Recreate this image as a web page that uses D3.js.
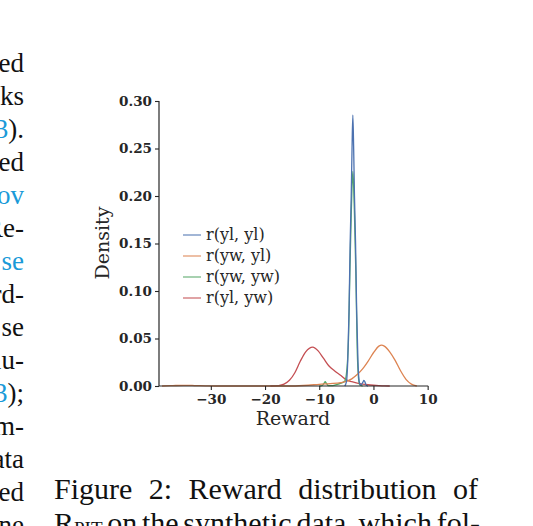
<!DOCTYPE html>
<html>
<head>
<meta charset="utf-8">
<script src="https://cdn.jsdelivr.net/npm/d3@7"></script>
<style>
  body { margin: 0; background: #fff; }
  svg { display: block; }
</style>
</head>
<body>
<svg id="chart" width="533" height="526"></svg>
<script>
// reward grid and density, one pair per series
var rewardYlYl = [-5.3, -5.0, -4.75, -4.5, -4.3, -4.1, -3.95, -3.8, -3.65, -3.5, -3.3, -3.1, -2.85, -2.6, -2.3, -1.95, -1.75, -1.55, -1.3, -1.0];
var densityYlYl = [0, 0.004, 0.025, 0.08, 0.15, 0.2, 0.25, 0.285, 0.25, 0.2, 0.15, 0.08, 0.025, 0.004, 0.001, 0.004, 0.006, 0.004, 0.0005, 0];

var rewardYwYl = [-39, -37, -35, -33, -31, -29, -15, -12, -10, -8, -6, -5, -4, -3, -2, -1, 0, 1, 1.5, 2, 3, 4, 5, 6, 7, 8];
var densityYwYl = [0, 0.0004, 0.0007, 0.0005, 0.0002, 0, 0, 0.0008, 0.0018, 0.0025, 0.0035, 0.0048, 0.0075, 0.012, 0.018, 0.026, 0.035, 0.042, 0.043, 0.042, 0.036, 0.027, 0.016, 0.007, 0.002, 0];

var rewardYwYw = [-10, -9.5, -9.1, -8.9, -8.7, -8.3, -7.5, -6.8, -6.0, -5.3, -5.0, -4.6, -4.35, -4.1, -3.95, -3.8, -3.65, -3.5, -3.25, -3.0, -2.75, -2.5, -2.0];
var densityYwYw = [0, 0.0003, 0.003, 0.0045, 0.003, 0.0003, 0.0005, 0.0015, 0.003, 0.005, 0.012, 0.05, 0.12, 0.18, 0.21, 0.226, 0.21, 0.18, 0.12, 0.04, 0.008, 0.001, 0];

var rewardYlYw = [-19, -17.5, -16.5, -15.5, -14.5, -13.5, -12.5, -11.2, -10.2, -9.2, -8.2, -7.2, -6, -5, -4, -3, -2, -1, 0, 1, 2, 3];
var densityYlYw = [0, 0.0005, 0.002, 0.006, 0.014, 0.026, 0.036, 0.041, 0.037, 0.029, 0.021, 0.016, 0.011, 0.0065, 0.0045, 0.003, 0.002, 0.0013, 0.0008, 0.0004, 0.0001, 0];

var seriesNames = ["r(yl, yl)", "r(yw, yl)", "r(yw, yw)", "r(yl, yw)"];
var xTicks = [-30, -20, -10, 0, 10];
var yTicks = [0, 0.05, 0.10, 0.15, 0.20, 0.25, 0.30];

// surrounding page text
var sideLines = [
    [["ed", 0]], [["ks", 0]], [["3", 1], [").", 0]], [["ed", 0]], [["ov", 1]],
    [["Re-", 0]], [["se", 1]], [["rd-", 0]], [["se", 0]], [["lu-", 0]],
    [["3", 1], [");", 0]], [["m-", 0]], [["ata", 0]], [["ed", 0]], [["ne", 0]]
];
var captionLine1 = ["Figure", "2:", "Reward", "distribution", "of"];
var captionLine2 = ["on", "the", "synthetic", "data,", "which", "fol-"];

var colors = ["#4c72b0", "#dd8452", "#55a868", "#c44e52"];
var series = [
    {name: seriesNames[0], x: rewardYlYl, y: densityYlYl, color: colors[0]},
    {name: seriesNames[1], x: rewardYwYl, y: densityYwYl, color: colors[1]},
    {name: seriesNames[2], x: rewardYwYw, y: densityYwYw, color: colors[2]},
    {name: seriesNames[3], x: rewardYlYw, y: densityYlYw, color: colors[3]}
];

var svg = d3.select("#chart");
var axisColor = "#262626";
var plotFont = "DejaVu Serif";

var x = d3.scaleLinear().domain([-39.56, 10.1]).range([159, 428.2]);
var y = d3.scaleLinear().domain([0, 0.30]).range([386, 101]);

// curves, last hue drawn first
var line = d3.line()
    .curve(d3.curveMonotoneX)
    .x(function (d) { return x(d[0]); })
    .y(function (d) { return y(d[1]); });

series.slice().reverse().forEach(function (s) {
    svg.append("path")
        .datum(d3.zip(s.x, s.y))
        .attr("fill", "none")
        .attr("stroke", s.color)
        .attr("stroke-width", 1.3)
        .attr("d", line);
});

// axes
var xAxis = svg.append("g")
    .attr("transform", "translate(0,386)")
    .call(d3.axisBottom(x).tickValues(xTicks).tickSize(4).tickPadding(4)
        .tickFormat(function (d) { return d < 0 ? "\u2212" + Math.abs(d) : d; }));
var yAxis = svg.append("g")
    .attr("transform", "translate(159,0)")
    .call(d3.axisLeft(y).tickValues(yTicks).tickSize(4).tickPadding(3)
        .tickFormat(d3.format(".2f")));

[xAxis, yAxis].forEach(function (g) {
    g.select(".domain").attr("stroke", axisColor).attr("stroke-width", 1.2);
    g.selectAll(".tick line").attr("stroke", axisColor).attr("stroke-width", 1.1);
    g.selectAll(".tick text")
        .attr("fill", axisColor)
        .style("font-family", plotFont)
        .style("font-weight", "bold")
        .style("font-size", "13.5px");
});
// remove outer tick ends of the domain path
xAxis.select(".domain").attr("d", "M" + x.range()[0] + ",0H" + x.range()[1]);
yAxis.select(".domain").attr("d", "M0," + y.range()[0] + "V" + y.range()[1]);

svg.append("text")
    .attr("x", 293).attr("y", 425)
    .attr("text-anchor", "middle")
    .attr("fill", axisColor)
    .style("font-family", plotFont)
    .style("font-size", "19px")
    .text("Reward");

svg.append("text")
    .attr("transform", "translate(109,243) rotate(-90)")
    .attr("text-anchor", "middle")
    .attr("fill", axisColor)
    .style("font-family", plotFont)
    .style("font-size", "19px")
    .text("Density");

// legend
var legend = svg.append("g");
series.forEach(function (s, i) {
    var ly = 235 + i * 21;
    legend.append("line")
        .attr("x1", 183).attr("x2", 201)
        .attr("y1", ly).attr("y2", ly)
        .attr("stroke", s.color)
        .attr("stroke-opacity", 0.8)
        .attr("stroke-width", 1.3);
    legend.append("text")
        .attr("x", 206).attr("y", ly + 5)
        .attr("fill", axisColor)
        .style("font-family", plotFont)
        .style("font-size", "16px")
        .text(s.name);
});

// page text to the left
var pageFont = "Liberation Serif";
sideLines.forEach(function (parts, i) {
    var t = svg.append("text")
        .attr("x", 24).attr("y", 72 + i * 33)
        .attr("text-anchor", "end")
        .style("font-family", pageFont)
        .style("font-size", "27px");
    parts.forEach(function (p) {
        t.append("tspan").attr("fill", p[1] ? "#1a9ad8" : "#111").text(p[0]);
    });
});

// caption, justified between two edges
function justify(words, x0, x1, yb, lead) {
    var nodes = [];
    if (lead) nodes.push(lead);
    words.forEach(function (w) {
        nodes.push(svg.append("text")
            .attr("y", yb)
            .attr("fill", "#111")
            .style("font-family", pageFont)
            .style("font-size", "30px")
            .text(w));
    });
    var widths = nodes.map(function (n) { return n.node().getComputedTextLength(); });
    var gap = (x1 - x0 - d3.sum(widths)) / (nodes.length - 1);
    var cx = x0;
    nodes.forEach(function (n, i) {
        n.attr("x", cx);
        cx += widths[i] + gap;
    });
}

justify(captionLine1, 54, 478, 499);

var rpit = svg.append("text")
    .attr("y", 533)
    .attr("fill", "#111")
    .style("font-family", pageFont)
    .style("font-size", "30px");
rpit.append("tspan").text("R");
rpit.append("tspan").style("font-size", "19px").attr("dy", 2).text("PIT");
justify(captionLine2, 54, 480, 533, rpit);
</script>
</body>
</html>
